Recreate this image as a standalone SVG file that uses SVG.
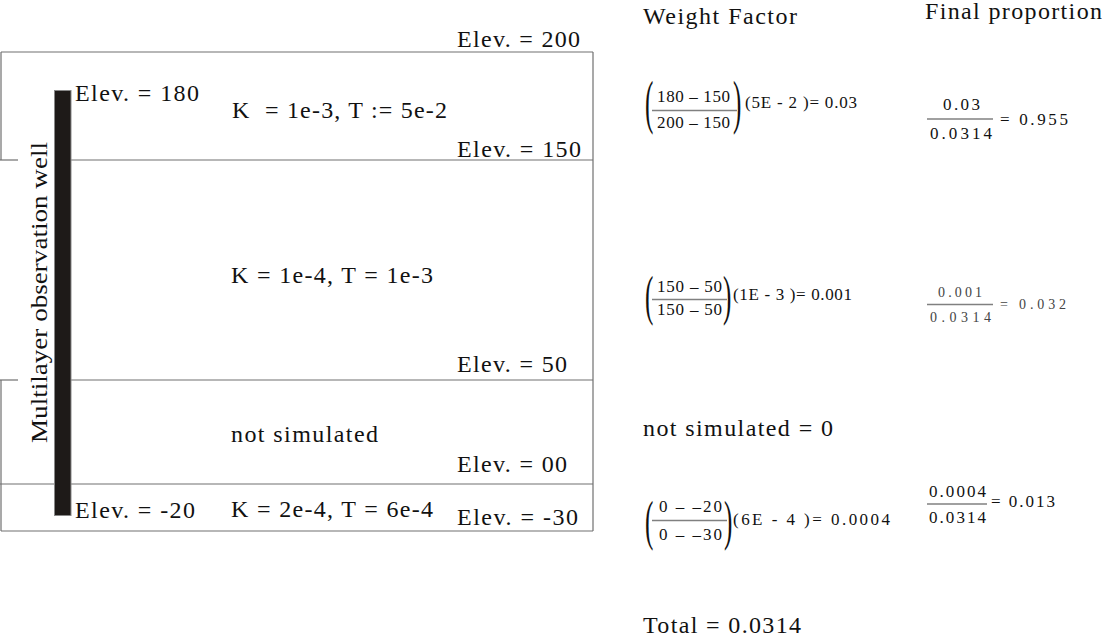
<svg xmlns="http://www.w3.org/2000/svg" width="1102" height="638" viewBox="0 0 1102 638">
<style>
text{font-family:"Liberation Serif","DejaVu Serif","Times New Roman",serif;fill:#111}
.lbl{font-size:24px}
.eq{font-size:17px}
.eqs{font-size:14px;fill:#444;letter-spacing:1px}
.ln{stroke:#707070;stroke-width:1.2;fill:none}
.fr{stroke:#808080;stroke-width:1.3}
.par{font-size:66px}
</style>
<rect width="1102" height="638" fill="#fff"/>
<g id="section">
<line class="ln" x1="1" y1="52" x2="593" y2="52"/>
<line class="ln" x1="0" y1="160" x2="18" y2="160"/>
<line class="ln" x1="54" y1="160" x2="593" y2="160"/>
<line class="ln" x1="0" y1="380" x2="18" y2="380"/>
<line class="ln" x1="54" y1="380" x2="593" y2="380"/>
<line class="ln" x1="0" y1="484" x2="593" y2="484"/>
<line class="ln" x1="1" y1="531" x2="593" y2="531"/>
<line class="ln" x1="593" y1="52" x2="593" y2="531"/>
<line class="ln" x1="1" y1="52" x2="1" y2="160"/>
<line class="ln" x1="1" y1="380" x2="1" y2="531"/>
</g>
<g id="well">
<rect x="54.5" y="90.5" width="16.5" height="425" fill="#1e1a18" stroke="#888" stroke-width="1"/>
<text class="lbl" transform="translate(47,292.5) rotate(-90)" text-anchor="middle" font-size="26" textLength="301" lengthAdjust="spacingAndGlyphs">Multilayer observation well</text>
</g>
<g id="labels">
<text class="lbl" x="457" y="47" textLength="123">Elev. = 200</text>
<text class="lbl" x="75" y="101" textLength="124">Elev. = 180</text>
<text class="lbl" x="232" y="118" textLength="215" xml:space="preserve">K  = 1e-3, T := 5e-2</text>
<text class="lbl" x="457" y="157" textLength="124">Elev. = 150</text>
<text class="lbl" x="231" y="283" textLength="202">K = 1e-4, T = 1e-3</text>
<text class="lbl" x="457" y="372" textLength="110">Elev. = 50</text>
<text class="lbl" x="231" y="442" textLength="147">not simulated</text>
<text class="lbl" x="457" y="472" textLength="110">Elev. = 00</text>
<text class="lbl" x="75" y="518" textLength="120">Elev. = -20</text>
<text class="lbl" x="231" y="517" textLength="202">K = 2e-4, T = 6e-4</text>
<text class="lbl" x="457" y="525" textLength="121">Elev. = -30</text>
</g>
<g id="headers">
<text class="lbl" x="643" y="24" textLength="154">Weight Factor</text>
<text class="lbl" x="925" y="19" textLength="177">Final proportion</text>
</g>
<g id="eq1">
<text class="par" transform="translate(645,122) scale(0.38,0.9)">(</text>
<text class="eq" x="657" y="102" textLength="73">180 – 150</text>
<line class="fr" x1="652" y1="110.5" x2="737" y2="110.5"/>
<text class="eq" x="657" y="128" textLength="73">200 – 150</text>
<text class="par" transform="translate(733,122) scale(0.38,0.9)">)</text>
<text class="eq" x="745" y="108" textLength="112">(5E - 2 )= 0.03</text>
</g>
<g id="eq2">
<text class="par" transform="translate(645,314) scale(0.38,0.82)">(</text>
<text class="eq" x="657" y="292" textLength="65">150 – 50</text>
<line class="fr" x1="652" y1="299.5" x2="727" y2="299.5"/>
<text class="eq" x="657" y="315" textLength="65">150 – 50</text>
<text class="par" transform="translate(723,314) scale(0.38,0.82)">)</text>
<text class="eq" x="733" y="300" textLength="119">(1E - 3 )= 0.001</text>
</g>
<g id="eq3">
<text class="par" transform="translate(645,539) scale(0.38,0.82)">(</text>
<text class="eq" x="659" y="512" textLength="63">0 – –20</text>
<line class="fr" x1="652" y1="520.5" x2="727" y2="520.5"/>
<text class="eq" x="659" y="540" textLength="63">0 – –30</text>
<text class="par" transform="translate(724,539) scale(0.38,0.82)">)</text>
<text class="eq" x="733" y="525" textLength="157">(6E - 4 )= 0.0004</text>
</g>
<g id="prop1">
<text class="eq" x="943" y="110" textLength="37">0.03</text>
<line class="fr" x1="927" y1="119" x2="993" y2="119"/>
<text class="eq" x="930" y="139" textLength="62">0.0314</text>
<text class="eq" x="1000" y="125" textLength="68">= 0.955</text>
</g>
<g id="prop2">
<text class="eqs" x="938" y="297" textLength="45">0.001</text>
<line class="fr" x1="927" y1="304.5" x2="993" y2="304.5"/>
<text class="eqs" x="930" y="322" textLength="62">0.0314</text>
<text class="eqs" x="1000" y="309" textLength="67">= 0.032</text>
</g>
<g id="prop3">
<text class="eq" x="929" y="497" textLength="57">0.0004</text>
<line class="fr" x1="927" y1="504" x2="987" y2="504"/>
<text class="eq" x="929" y="523" textLength="57">0.0314</text>
<text class="eq" x="991" y="507" textLength="64">= 0.013</text>
</g>
<g id="notes">
<text class="lbl" x="643" y="436" textLength="190">not simulated = 0</text>
<text class="lbl" x="643" y="633" textLength="158">Total = 0.0314</text>
</g>
</svg>
